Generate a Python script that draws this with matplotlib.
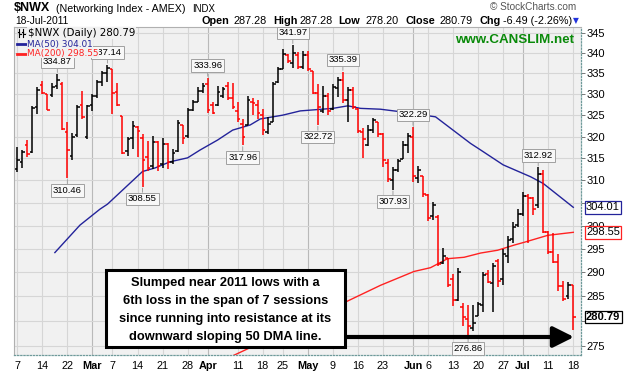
import pandas as pd
import matplotlib
matplotlib.use("Agg")
import matplotlib.pyplot as plt
from matplotlib.patches import Rectangle
from matplotlib.lines import Line2D
from matplotlib.ticker import FixedLocator, FixedFormatter, NullLocator
from matplotlib.transforms import ScaledTranslation

plt.rcParams['font.family'] = ['Liberation Sans', 'DejaVu Sans']

W, H = 626, 373

# daily OHLC of $NWX, 7-Feb-2011 .. 18-Jul-2011
opens = [312.5, 314.2, 318.0, 316.5, 327.0, 332.2, 330.0, 329.7, 332.0, 332.5,
         321.0, 315.5, 320.3, 327.5, 320.0, 327.3, 329.5, 333.0, 335.0, 336.0,
         330.5, 324.7, 316.7, 319.7, 322.2, 319.7, 315.2, 313.2, 318.7, 313.7,
         318.2, 314.2, 316.7, 322.7, 320.2, 326.2, 328.2, 330.7, 332.5, 327.5,
         327.5, 329.5, 332.0, 329.0, 326.0, 323.0, 322.8, 328.0, 327.5, 325.0,
         321.0, 323.5, 333.0, 336.0, 339.5, 337.5, 339.5, 336.5, 339.5, 335.5,
         330.3, 326.0, 329.5, 326.5, 331.5, 333.5, 328.5, 331.0, 326.5, 321.0,
         318.0, 321.5, 323.5, 320.5, 314.0, 310.0, 312.3, 314.8, 318.0, 320.0,
         310.5, 311.0, 306.8, 302.0, 301.8, 292.0, 293.0, 288.7, 284.2, 282.8,
         280.3, 278.5, 280.9, 283.3, 289.7, 287.7, 292.4, 288.7, 293.4, 297.2,
         300.1, 302.6, 306.5, 306.0, 304.5, 311.5, 298.6, 294.3, 292.3, 287.2,
         285.0, 287.28]
highs = [317.5, 316.9, 319.3, 327.1, 331.6, 333.1, 330.1, 332.7, 334.87, 333.0,
         323.3, 320.8, 327.5, 330.7, 327.3, 330.0, 333.5, 335.5, 337.14, 336.0,
         332.7, 324.7, 320.0, 323.6, 322.5, 320.7, 319.0, 320.1, 319.0, 319.7,
         318.6, 317.1, 323.8, 322.7, 326.8, 328.7, 331.6, 332.7, 333.96, 328.2,
         331.9, 331.7, 333.0, 332.7, 328.2, 324.1, 329.5, 329.0, 328.6, 326.4,
         324.5, 333.0, 336.5, 340.9, 339.8, 341.97, 340.3, 340.5, 340.5, 335.5,
         332.5, 332.0, 330.3, 332.5, 334.0, 335.39, 331.6, 331.6, 326.8, 322.0,
         322.7, 324.3, 323.5, 320.8, 314.8, 313.0, 314.8, 318.9, 320.8, 322.29,
         313.3, 311.0, 307.0, 305.2, 302.3, 295.2, 293.0, 289.6, 291.0, 283.7,
         283.2, 283.2, 283.9, 290.1, 290.6, 292.0, 292.9, 294.9, 297.8, 300.7,
         303.6, 307.3, 307.0, 306.3, 312.92, 312.3, 298.9, 298.3, 294.0, 288.1,
         288.0, 287.28]
lows = [311.9, 312.8, 315.2, 316.3, 325.3, 330.1, 326.1, 329.4, 331.3, 321.5,
        310.46, 314.5, 320.0, 324.2, 319.5, 326.0, 329.0, 332.0, 333.0, 325.3,
        327.1, 316.0, 315.5, 317.2, 315.2, 308.55, 312.2, 312.6, 312.2, 312.7,
        312.6, 313.7, 316.4, 318.2, 319.7, 325.9, 328.0, 330.2, 325.6, 325.3,
        327.1, 329.0, 328.6, 326.4, 323.4, 317.96, 322.6, 325.1, 324.1, 320.4,
        320.7, 323.4, 332.7, 336.0, 337.5, 336.4, 336.0, 336.0, 335.5, 330.0,
        322.72, 325.5, 325.0, 326.2, 329.2, 327.8, 323.4, 326.4, 320.8, 315.0,
        317.8, 320.8, 320.0, 313.0, 309.6, 307.93, 311.9, 314.8, 316.3, 309.6,
        309.3, 306.3, 301.1, 301.2, 291.4, 291.8, 287.0, 283.1, 284.0, 279.0,
        276.86, 278.0, 280.9, 281.8, 287.7, 281.8, 287.0, 287.3, 291.9, 296.2,
        299.7, 302.1, 296.2, 302.4, 303.8, 298.3, 294.0, 291.9, 286.2, 284.1,
        284.5, 278.20]
closes = [314.5, 316.5, 315.9, 326.7, 331.0, 330.3, 326.3, 331.7, 333.4, 321.8,
          317.0, 320.0, 327.0, 324.5, 327.1, 329.5, 333.0, 335.0, 336.2, 330.2,
          327.3, 316.3, 319.5, 322.5, 321.4, 314.7, 312.7, 318.7, 313.2, 318.2,
          314.2, 316.2, 323.2, 319.7, 326.2, 328.2, 330.7, 331.9, 326.2, 325.6,
          330.5, 331.3, 329.0, 327.0, 324.0, 320.0, 328.5, 327.8, 325.5, 321.5,
          323.0, 332.5, 336.0, 339.8, 338.0, 340.0, 336.5, 339.5, 336.0, 330.3,
          327.0, 329.5, 326.0, 331.8, 333.5, 328.5, 331.0, 327.0, 321.2, 319.5,
          321.5, 323.8, 320.5, 314.5, 310.2, 312.3, 314.3, 318.0, 320.2, 311.0,
          312.3, 307.0, 301.6, 304.5, 291.7, 293.5, 287.3, 284.2, 290.0, 280.8,
          278.9, 279.6, 283.5, 289.5, 288.0, 291.3, 288.3, 293.9, 296.8, 299.7,
          302.6, 306.5, 306.0, 303.6, 311.5, 298.7, 294.3, 292.3, 287.2, 284.5,
          287.28, 280.79]

# moving averages, read at a few bar positions
ma50_idx = [7.5, 12.5, 16.5, 18, 25, 27.5, 30.5, 34, 36.5, 40, 43, 46.5, 48.5, 53,
            56.5, 63, 66, 68.5, 72.5, 76.5, 83.5, 90.5, 92.5, 97, 102.5, 105, 111]
ma50_val = [294.2, 300.1, 303.6, 304.7, 312.0, 312.8, 314.2, 315.1, 316.9,
            319.2, 321.5, 322.7, 324.1, 325.0, 326.0, 326.6, 327.2, 326.6, 326.4,
            325.8, 324.6, 318.4, 316.9, 313.5, 310.8, 309.3, 304.01]
ma200_idx = [43, 45.6, 72.5, 79.2, 82.5, 85.9, 89.2, 92.5, 95.9, 99.2, 101.2, 105.9, 111]
ma200_val = [273.0, 274.2, 287.3, 290.2, 291.0, 292.9, 293.2, 294.1, 294.7, 295.8,
             296.4, 297.9, 298.55]

# labelled swing highs / lows
hi_labels = [(8, 334.87), (18, 337.14), (38, 333.96), (55, 341.97), (65, 335.39),
             (79, 322.29), (104, 312.92)]
lo_labels = [(10, 310.46), (25, 308.55), (45, 317.96), (60, 322.72), (75, 307.93),
             (90, 276.86)]

holidays = ["2011-02-21", "2011-04-22", "2011-05-30", "2011-07-04"]
days = [d.strftime("%Y-%m-%d") for d in pd.bdate_range("2011-02-07", "2011-07-18")]
days = [d for d in days if d not in holidays]
tick_dates = ["2011-02-07", "2011-02-14", "2011-02-22", "2011-03-01", "2011-03-07",
              "2011-03-14", "2011-03-21", "2011-03-28", "2011-04-01", "2011-04-11",
              "2011-04-18", "2011-04-25", "2011-05-02", "2011-05-09", "2011-05-16",
              "2011-05-23", "2011-06-01", "2011-06-06", "2011-06-13", "2011-06-20",
              "2011-06-27", "2011-07-01", "2011-07-11", "2011-07-18"]
tick_text = ["7", "14", "22", "Mar", "7", "14", "21", "28", "Apr", "11", "18", "25",
             "May", "9", "16", "23", "Jun", "6", "13", "20", "27", "Jul", "11", "18"]
price_ticks = list(range(275, 346, 5))


def fx(x):
    return x / W


def fy(y):
    return 1 - y / H


fig = plt.figure(figsize=(W / 100, H / 100), dpi=100)
ax = fig.add_axes([fx(14), fy(355), (581 - 14) / W, (355 - 27) / H])
ax.set_facecolor('#f1f1f1')
ax.set_yscale('log')
ax.set_xlim(-0.66, 112.54)
ax.set_ylim(273.16, 346.43)

tick_pos = [days.index(t) for t in tick_dates]

# grid
for p, t in zip(tick_pos, tick_text):
    ax.axvline(p, color='#b9b9b9' if t.isalpha() else '#d6d6d6', lw=0.8, zorder=0)
for v in price_ticks:
    ax.axhline(v, color='#d6d6d6', lw=0.8, zorder=0)

# OHLC bars, red when the close is below the previous close
x = list(range(len(closes)))
cols = ['black'] + ['#ff0000' if closes[i] < closes[i - 1] else 'black'
                    for i in range(1, len(closes))]
ax.vlines(x, lows, highs, colors=cols, lw=1.1, zorder=3)
ax.hlines(opens, [i - 0.55 for i in x], x, colors=cols, lw=1.1, zorder=3)
ax.hlines(closes, x, [i + 0.55 for i in x], colors=cols, lw=1.1, zorder=3)

ax.plot(ma50_idx, ma50_val, color='#23239a', lw=1.0, zorder=2)
ax.plot(ma200_idx, ma200_val, color='#ff2222', lw=1.0, zorder=2)

lbl_box = dict(boxstyle='square,pad=0.18', fc='#f8f8f8', ec='#a0a0a0', lw=0.7)
for labels, dy in [(hi_labels, 12), (lo_labels, -12)]:
    for i, v in labels:
        ax.annotate(f"{v:.2f}", xy=(i, v), xytext=(0, dy), textcoords='offset pixels',
                    ha='center', va='center', fontsize=6.8, bbox=lbl_box, zorder=5,
                    arrowprops=dict(arrowstyle='-', color='#a0a0a0', lw=0.7,
                                    shrinkA=0, shrinkB=1))

# axes styling
for s in ['left', 'top']:
    ax.spines[s].set_color('#b0b0b0')
    ax.spines[s].set_linewidth(0.8)
for s in ['bottom', 'right']:
    ax.spines[s].set_color('#6f9a9a')
    ax.spines[s].set_linestyle((0, (1, 1.5)))
    ax.spines[s].set_linewidth(0.9)

ax.set_xticks(tick_pos)
ax.set_xticklabels(tick_text)
nudge = ScaledTranslation(-2 / 100, 0, fig.dpi_scale_trans)
for k, (lab, t) in enumerate(zip(ax.get_xticklabels(), tick_text)):
    if t.isalpha():
        lab.set_fontweight('bold')
    if k > 0:
        lab.set_transform(lab.get_transform() + nudge)
ax.tick_params(axis='x', length=0, pad=4, labelsize=7.8)
ax.yaxis.tick_right()
ax.yaxis.set_major_locator(FixedLocator(price_ticks))
# 305 and 280 sit under the value boxes on the right
ax.yaxis.set_major_formatter(FixedFormatter(
    ["" if v in (305, 280) else str(v) for v in price_ticks]))
ax.yaxis.set_minor_locator(NullLocator())
ax.tick_params(axis='y', length=3, width=0.7, color='#777777', pad=1, labelsize=8)

# right-hand value boxes
for val, col, wt in [(304.01, '#23239a', 'normal'), (298.55, '#ff2222', 'normal'),
                     (280.79, 'black', 'bold')]:
    ax.annotate(f"{val:.2f}", xy=(1.0, val), xycoords=('axes fraction', 'data'),
                xytext=(5, 0), textcoords='offset pixels', ha='left', va='center',
                fontsize=8, fontweight=wt, color='black', zorder=6,
                bbox=dict(boxstyle='square,pad=0.12', fc='white', ec=col, lw=0.9),
                annotation_clip=False)

# header
fig.text(fx(14), fy(8), "$NWX", fontsize=9, fontweight='bold', va='center')
fig.text(fx(56), fy(8.5), "(Networking Index - AMEX)", fontsize=7.7, va='center')
fig.text(fx(192), fy(8.5), "INDX", fontsize=6.9, va='center')
fig.text(fx(15), fy(20.5), "18-Jul-2011", fontsize=7.4, va='center')
for s, px, bold in [("Open", 202, True), ("287.28", 233, False), ("High", 273, True),
                    ("287.28", 300, False), ("Low", 338, True), ("278.20", 365, False),
                    ("Close", 405, True), ("280.79", 440, False), ("Chg", 479, True),
                    ("-6.49 (-2.26%)", 503, False)]:
    fig.text(fx(px), fy(20.5), s, fontsize=7.8, va='center',
             fontweight='bold' if bold else 'normal')
fig.text(fx(573), fy(20.5), "\u25bc", fontsize=5.5, va='center', color='#2233dd',
         family=['DejaVu Sans'])
fig.text(fx(490), fy(7), "\u00a9 StockCharts.com", fontsize=7.2, va='center',
         color='#555555')
fig.text(fx(574), fy(40), "www.CANSLIM.net", fontsize=9.6, fontweight='bold',
         va='center', ha='right', color='#0a8a0a')

# in-chart legend
leg_bg = dict(boxstyle='square,pad=0.05', fc='#f1f1f1', ec='none')
fig.text(fx(28), fy(33), "$NWX (Daily) 280.79", fontsize=7.4, va='center',
         family=['DejaVu Sans'], bbox=leg_bg)
fig.text(fx(27), fy(44), "MA(50) 304.01", fontsize=6.4, va='center',
         family=['DejaVu Sans'], color='#23239a', bbox=leg_bg)
fig.text(fx(27), fy(53.5), "MA(200) 298.55", fontsize=6.4, va='center',
         family=['DejaVu Sans'], color='#ff2222', bbox=leg_bg)
fig.add_artist(Line2D([fx(17), fx(26)], [fy(44), fy(44)], color='#23239a', lw=2))
fig.add_artist(Line2D([fx(17), fx(26)], [fy(53.5), fy(53.5)], color='#ff2222', lw=2))
for bx in (19, 23):
    fig.add_artist(Line2D([fx(bx), fx(bx)], [fy(29), fy(37)], color='black', lw=0.8))
    fig.add_artist(Line2D([fx(bx - 1.5), fx(bx)], [fy(32), fy(32)], color='black', lw=0.8))
    fig.add_artist(Line2D([fx(bx), fx(bx + 1.5)], [fy(34), fy(34)], color='black', lw=0.8))

# commentary box and arrow
ax.annotate('', xy=(574, H - 337), xycoords='figure pixels',
            xytext=(340, H - 337), textcoords='figure pixels',
            arrowprops=dict(arrowstyle='-|>,head_length=0.9,head_width=0.45',
                            lw=3, color='black', mutation_scale=14,
                            shrinkA=0, shrinkB=0), zorder=7)
fig.add_artist(Rectangle((fx(106), fy(347)), (345 - 106) / W, (347 - 270) / H,
                         transform=fig.transFigure, fc='white', ec='black', lw=2.2))
for j, line in enumerate(["Slumped near 2011 lows with a",
                          "6th loss in the span of 7 sessions",
                          "since running into resistance at its",
                          "downward sloping 50 DMA line."]):
    fig.text(fx(225.5), fy(283 + 18 * j), line, ha='center', va='center',
             fontsize=9.3, fontweight='bold')

fig.savefig("out.png", dpi=100)
